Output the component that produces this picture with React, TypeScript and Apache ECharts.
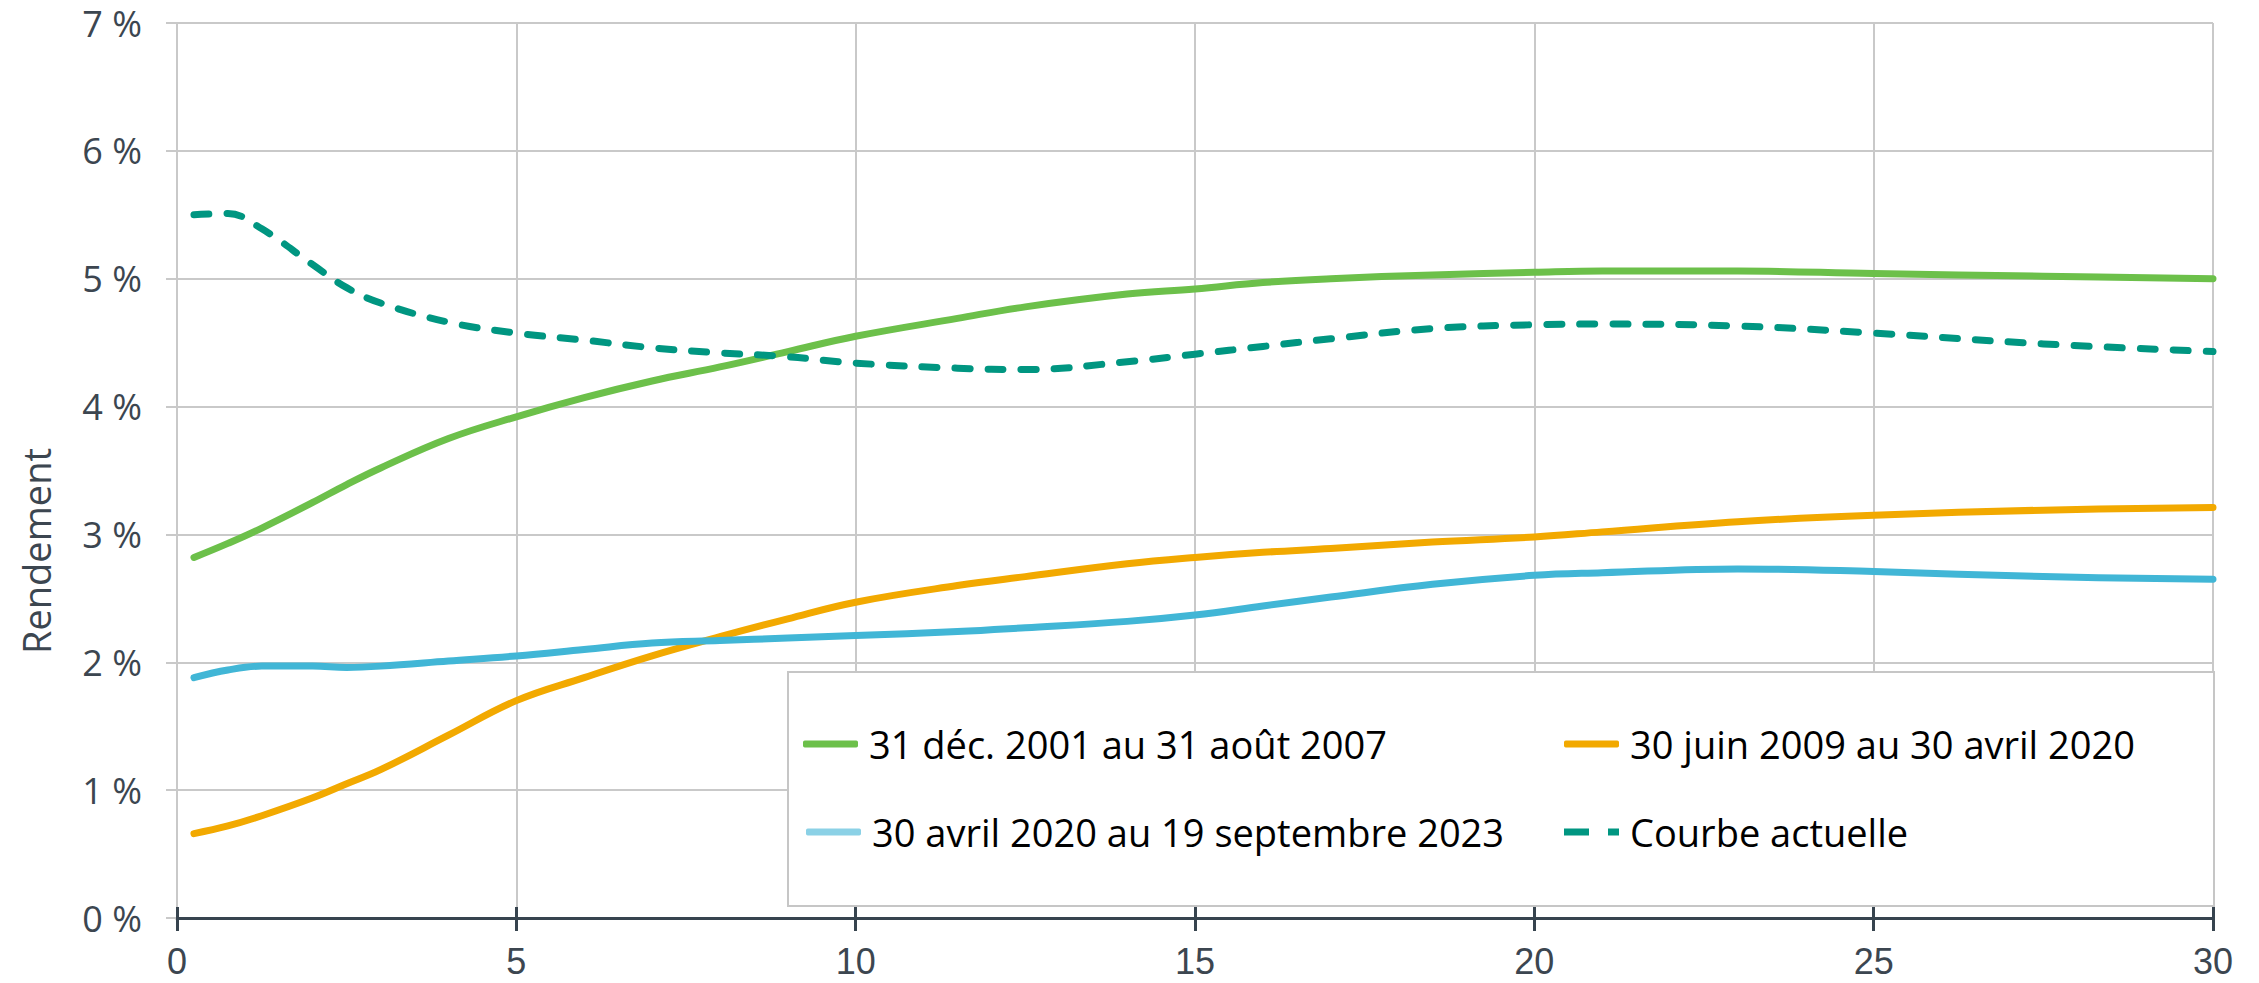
import React, { useEffect, useRef } from "react";
import * as echarts from "echarts";

const tenors = [0.25, 0.75, 1.25, 2, 2.5, 3, 4, 5, 6, 7, 8, 9, 10, 11.5, 12.5, 14, 15, 16, 17, 18.5, 20, 21, 23, 25, 27.5, 30];

const seriesNames = [
  "31 déc. 2001 au 31 août 2007",
  "30 juin 2009 au 30 avril 2020",
  "30 avril 2020 au 19 septembre 2023",
  "Courbe actuelle",
];

const green = [2.82, 2.93, 3.05, 3.25, 3.39, 3.52, 3.75, 3.92, 4.07, 4.2, 4.31, 4.43, 4.55, 4.69, 4.78, 4.88, 4.92, 4.97, 5.0, 5.03, 5.05, 5.06, 5.06, 5.04, 5.02, 5.0];
const orange = [0.66, 0.72, 0.8, 0.94, 1.05, 1.16, 1.43, 1.7, 1.88, 2.05, 2.2, 2.34, 2.47, 2.6, 2.67, 2.77, 2.82, 2.86, 2.89, 2.94, 2.98, 3.02, 3.1, 3.15, 3.19, 3.21];
const blue = [1.88, 1.94, 1.97, 1.97, 1.96, 1.97, 2.01, 2.05, 2.1, 2.15, 2.17, 2.19, 2.21, 2.24, 2.27, 2.32, 2.37, 2.44, 2.51, 2.61, 2.68, 2.7, 2.73, 2.71, 2.67, 2.65];
const current = [5.5, 5.51, 5.39, 5.11, 4.93, 4.81, 4.66, 4.575, 4.52, 4.46, 4.42, 4.39, 4.34, 4.3, 4.29, 4.35, 4.41, 4.47, 4.53, 4.61, 4.64, 4.645, 4.63, 4.575, 4.49, 4.43];

const yTicks = [0, 1, 2, 3, 4, 5, 6, 7];
const xTicks = [0, 5, 10, 15, 20, 25, 30];

const COLORS = ["#6CC04A", "#F2A900", "#41B6D6", "#009681"];
const LEGEND_COLORS = ["#6CC04A", "#F2A900", "#8BD1E6", "#009681"];
const GRID = "#C9C9C9";
const AXIS = "#37444F";
const LABEL = "#3C4650";

export default function App() {
  const ref = useRef<HTMLDivElement>(null);
  useEffect(() => {
    if (!ref.current) return;
    const chart = echarts.init(ref.current, null, { renderer: "svg" });
    const values = [green, orange, blue, current];
    const series = values.map((arr, i) => ({
      name: seriesNames[i],
      type: "line",
      smooth: 0.4,
      showSymbol: false,
      symbol: "none",
      z: 2,
      data: tenors.map((t, j) => [t, arr[j]]),
      lineStyle: {
        color: COLORS[i],
        width: 7,
        cap: "round",
        join: "round",
        type: i === 3 ? [15, 18] : "solid",
      },
      itemStyle: { color: COLORS[i] },
    }));

    const legendPos = [
      { left: 803, top: 744 },
      { left: 1564, top: 744 },
      { left: 806, top: 832 },
      { left: 1564, top: 832 },
    ];
    const legends = seriesNames.map((n, i) => ({
      show: true,
      z: 20,
      left: legendPos[i].left,
      top: legendPos[i].top - 21,
      padding: 0,
      itemWidth: 55,
      itemHeight: 7,
      selectedMode: false,
      textStyle: {
        fontFamily: "Open Sans",
        fontSize: 38,
        color: "#000000",
        lineHeight: 42,
        padding: [0, 0, 0, 6],
      },
      data: [
        {
          name: n,
          icon: i === 3 ? "path://M0,0H25V7H0Z M44,0H55V7H44Z" : "roundRect",
          itemStyle: { color: LEGEND_COLORS[i], borderWidth: 0 },
        },
      ],
    }));

    chart.setOption({
      animation: false,
      backgroundColor: "#ffffff",
      grid: { left: 177, right: 46, top: 23, bottom: 65, containLabel: false },
      xAxis: [
        {
          type: "value",
          min: xTicks[0],
          max: xTicks[xTicks.length - 1],
          interval: 5,
          axisLine: { show: true, onZero: false, lineStyle: { color: AXIS, width: 3 } },
          axisTick: { show: true, inside: false, length: 13, lineStyle: { color: AXIS, width: 3 } },
          axisLabel: {
            margin: 25,
            fontFamily: "Liberation Sans",
            fontSize: 36,
            lineHeight: 36,
            color: LABEL,
          },
          splitLine: { show: true, lineStyle: { color: GRID, width: 2 } },
        },
        {
          type: "value",
          position: "bottom",
          min: xTicks[0],
          max: xTicks[xTicks.length - 1],
          interval: 5,
          axisLine: { show: false },
          axisTick: { show: true, inside: true, length: 11, lineStyle: { color: AXIS, width: 3 } },
          axisLabel: { show: false },
          splitLine: { show: false },
        },
      ],
      yAxis: {
        type: "value",
        min: yTicks[0],
        max: yTicks[yTicks.length - 1],
        interval: 1,
        axisLine: { show: true, lineStyle: { color: GRID, width: 2 } },
        axisTick: { show: true, inside: false, length: 11, lineStyle: { color: GRID, width: 2 } },
        axisLabel: {
          margin: 35,
          fontFamily: "Open Sans",
          fontSize: 36,
          color: LABEL,
          formatter: (v: number) => `${v} %`,
        },
        splitLine: { show: true, lineStyle: { color: GRID, width: 2 } },
      },
      legend: legends,
      graphic: [
        {
          type: "rect",
          z: 10,
          shape: { x: 788, y: 672, width: 1426, height: 234 },
          style: { fill: "#ffffff", stroke: "#C6C6C6", lineWidth: 2 },
        },
        {
          type: "text",
          z: 10,
          x: 36,
          y: 551,
          rotation: Math.PI / 2,
          style: {
            text: "Rendement",
            fill: LABEL,
            font: "38px 'Open Sans'",
            align: "center",
            verticalAlign: "middle",
          },
        },
      ],
      series,
    });
    return () => chart.dispose();
  }, []);
  return (
    <div
      ref={ref}
      style={{ position: "fixed", left: 0, top: 0, width: 2259, height: 983 }}
    />
  );
}
